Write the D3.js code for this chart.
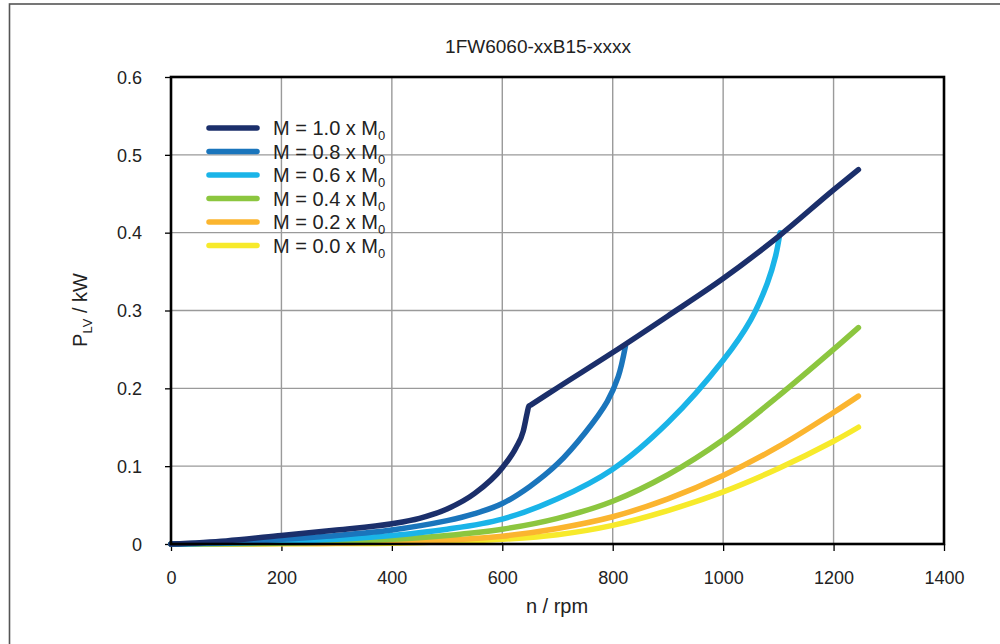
<!DOCTYPE html>
<html>
<head>
<meta charset="utf-8">
<script src="https://cdn.jsdelivr.net/npm/d3@7"></script>
<style>
  html, body { margin: 0; padding: 0; background: #fff; }
  svg { display: block; font-family: "Liberation Sans", Arial, sans-serif; }
</style>
</head>
<body>
<svg id="chart" width="1000" height="644"></svg>
<script>
// ---- Data ----
const title = "1FW6060-xxB15-xxxx";
const xTicks = [0, 200, 400, 600, 800, 1000, 1200, 1400];
const yTicks = [0, 0.1, 0.2, 0.3, 0.4, 0.5, 0.6];
const seriesLabels = ["1.0", "0.8", "0.6", "0.4", "0.2", "0.0"];
const seriesColors = ["#1b2f6b", "#1a75bc", "#1ab4e8", "#8cc63f", "#fbb52f", "#f7ea2b"];

const m10 = [[0,0],[100,0.004],[200,0.011],[300,0.018],[400,0.026],[450,0.033],[500,0.045],[550,0.065],[600,0.098],[625,0.124],[638,0.145],[645,0.168],[648,0.177],[652,0.1788],[700,0.2008],[800,0.246],[900,0.293],[1000,0.341],[1100,0.395],[1200,0.455],[1245,0.481]];
const m08 = [[0,0],[100,0.002],[200,0.006],[300,0.011],[400,0.018],[500,0.03],[550,0.039],[600,0.052],[650,0.074],[700,0.103],[750,0.143],[790,0.183],[810,0.215],[823,0.254]];
const m06 = [[0,0],[100,0.001],[200,0.003],[300,0.006],[400,0.011],[500,0.019],[600,0.032],[700,0.058],[800,0.096],[900,0.156],[1000,0.236],[1050,0.288],[1080,0.335],[1095,0.37],[1103,0.40]];
const m04 = [[0,0],[200,0.001],[300,0.003],[400,0.006],[500,0.011],[600,0.019],[700,0.033],[800,0.055],[900,0.089],[1000,0.134],[1100,0.19],[1200,0.25],[1245,0.278]];
const m02 = [[0,0],[200,0.0005],[300,0.001],[400,0.003],[500,0.005],[600,0.01],[700,0.02],[800,0.035],[900,0.058],[1000,0.088],[1100,0.125],[1200,0.169],[1245,0.19]];
const m00 = [[0,0],[300,0.0005],[400,0.001],[500,0.003],[600,0.006],[700,0.012],[800,0.024],[900,0.043],[1000,0.067],[1100,0.097],[1200,0.132],[1245,0.15]];
const seriesData = [m10, m08, m06, m04, m02, m00];

// ---- Layout ----
const svg = d3.select("#chart");
const L = 171, R = 944, T = 77, B = 544;
const x = d3.scaleLinear().domain([0, 1400]).range([L, R]);
const y = d3.scaleLinear().domain([0, 0.6]).range([B, T]);
const FONT = "'Liberation Sans', Arial, sans-serif";

// outer frame (only left/top visible)
svg.append("rect").attr("x", 9.5).attr("y", 4).attr("width", 1020).attr("height", 680)
  .attr("fill", "none").attr("stroke", "#555").attr("stroke-width", 1.6);

// grid
const grid = svg.append("g");
grid.selectAll("line.v").data(xTicks.slice(1, -1)).join("line")
  .attr("x1", d => x(d)).attr("x2", d => x(d)).attr("y1", T).attr("y2", B)
  .attr("stroke", "#9a9a9a").attr("stroke-width", 1.4);
grid.selectAll("line.h").data(yTicks.slice(1, -1)).join("line")
  .attr("y1", d => y(d)).attr("y2", d => y(d)).attr("x1", L).attr("x2", R)
  .attr("stroke", "#9a9a9a").attr("stroke-width", 1.4);

// axes
const xAxis = svg.append("g").attr("transform", `translate(0,${B})`)
  .call(d3.axisBottom(x).tickValues(xTicks).tickSize(7).tickFormat(d3.format("d")));
const yAxis = svg.append("g").attr("transform", `translate(${L},0)`)
  .call(d3.axisLeft(y).tickValues(yTicks).tickSize(6).tickFormat(d => d === 0 ? "0" : d3.format(".1f")(d)));
[xAxis, yAxis].forEach(g => {
  g.select(".domain").remove();
  g.selectAll(".tick line").attr("stroke", "#000").attr("stroke-width", 1.3);
  g.selectAll(".tick text").attr("fill", "#222").style("font-size", "18px").style("font-family", FONT);
});
xAxis.selectAll(".tick text").attr("y", 40).attr("dy", 0);
yAxis.selectAll(".tick text").attr("x", -29).attr("dy", "0.35em");

// curves
const lineKink = d3.line().x(d => x(d[0])).y(d => y(d[1])).curve(d3.curveMonotoneX);
const lineSmooth = d3.line().x(d => x(d[0])).y(d => y(d[1])).curve(d3.curveCatmullRom.alpha(0.5));
const curves = svg.append("g");
seriesData.slice().reverse().forEach((data, i) => {
  const idx = seriesData.length - 1 - i;
  curves.append("path").datum(data).attr("d", idx === 0 ? lineKink : lineSmooth)
    .attr("fill", "none").attr("stroke", seriesColors[idx])
    .attr("stroke-width", 5.5).attr("stroke-linecap", "round").attr("stroke-linejoin", "round");
});

// plot frame
svg.append("rect").attr("x", L).attr("y", T).attr("width", R - L).attr("height", B - T)
  .attr("fill", "none").attr("stroke", "#000").attr("stroke-width", 2.6);

// legend
const leg = svg.append("g");
seriesLabels.forEach((lab, i) => {
  const ly = 128 + i * 23.5;
  leg.append("line").attr("x1", 209).attr("x2", 257).attr("y1", ly).attr("y2", ly)
    .attr("stroke", seriesColors[i]).attr("stroke-width", 5.5).attr("stroke-linecap", "round");
  const t = leg.append("text").attr("x", 273).attr("y", ly + 7).style("font-size", "20px").attr("fill", "#222");
  t.append("tspan").text(`M = ${lab} x M`);
  t.append("tspan").text("0").attr("dy", 5).style("font-size", "13px");
});

// title
svg.append("text").attr("x", 538).attr("y", 53).attr("text-anchor", "middle")
  .style("font-size", "19px").attr("fill", "#222").text(title);

// axis titles
svg.append("text").attr("x", 557).attr("y", 613).attr("text-anchor", "middle")
  .style("font-size", "20px").attr("fill", "#222").text("n / rpm");
const yt = svg.append("text").attr("transform", "translate(87,310) rotate(-90)")
  .attr("text-anchor", "middle").style("font-size", "20px").attr("fill", "#222");
yt.append("tspan").text("P");
yt.append("tspan").text("LV").attr("dy", 5).style("font-size", "13px");
yt.append("tspan").text(" / kW").attr("dy", -5);
</script>
</body>
</html>
